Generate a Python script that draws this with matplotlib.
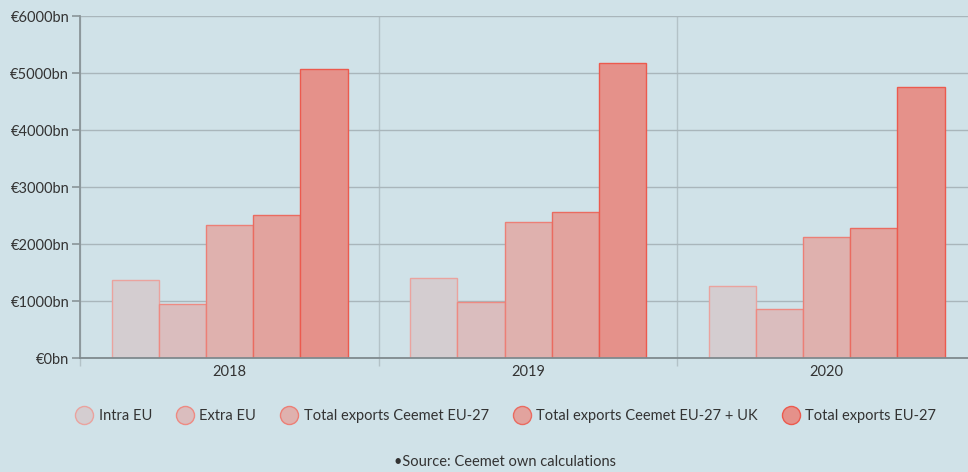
import matplotlib
matplotlib.use("Agg")
import matplotlib.pyplot as plt
from matplotlib.lines import Line2D
import numpy as np

plt.rcParams['font.family'] = ['Lato', 'DejaVu Sans']

years = ['2018', '2019', '2020']
series_names = ['Intra EU', 'Extra EU', 'Total exports Ceemet EU-27',
                'Total exports Ceemet EU-27 + UK', 'Total exports EU-27']
intra_eu = [1370, 1405, 1275]
extra_eu = [958, 980, 857]
ceemet_eu27 = [2345, 2395, 2126]
ceemet_eu27_uk = [2510, 2570, 2290]
total_eu27 = [5064, 5180, 4755]
y_ticks = [0, 1000, 2000, 3000, 4000, 5000, 6000]

fills = ['#d4cdd0', '#dabdbe', '#dfb1ae', '#e2a39e', '#e5918a']
edges = ['#eaa39e', '#ee8a82', '#ec7f76', '#ea6b60', '#ec5a4e']
bg = '#d0e2e8'
text_col = '#333333'

values = [intra_eu, extra_eu, ceemet_eu27, ceemet_eu27_uk, total_eu27]

fig = plt.figure(figsize=(9.68, 4.72), dpi=100)
fig.patch.set_facecolor(bg)
ax = fig.add_axes([0.083, 0.2409, 0.9252, 0.7252])
ax.set_facecolor(bg)

centers = np.arange(len(years)) + 0.5
bar_w = 0.158
for i, vals in enumerate(values):
    ax.bar(centers + (i - 2) * bar_w, vals, width=bar_w, color=fills[i],
           edgecolor=edges[i], linewidth=1.0, zorder=3)

ax.set_xlim(0, 3)
ax.set_ylim(0, 6000)
ax.set_yticks(y_ticks)
ax.set_yticklabels([f'€{v}bn' for v in y_ticks], fontsize=10.5, color=text_col)
ax.yaxis.grid(True, color='#a9b6bb', linewidth=1.0, zorder=0)

ax.set_xticks([0, 1, 2, 3])
ax.set_xticklabels([])
ax.set_xticks(centers, minor=True)
ax.set_xticklabels(years, minor=True, fontsize=10.5, color=text_col)
ax.tick_params(axis='x', which='minor', length=0, pad=5)
ax.tick_params(axis='x', which='major', length=6, color='#b3c2c7', width=1.0)
ax.xaxis.grid(True, which='major', color='#b3c2c7', linewidth=1.0, zorder=0)
ax.tick_params(axis='y', length=6, color='#8a9498', width=1.2, pad=2)

for s in ['top', 'right']:
    ax.spines[s].set_visible(False)
ax.spines['left'].set_color('#8a9498')
ax.spines['left'].set_linewidth(1.3)
ax.spines['bottom'].set_color('#7f8a8e')
ax.spines['bottom'].set_linewidth(1.3)
ax.spines['bottom'].set_zorder(4)

handles = [Line2D([0], [0], marker='o', linestyle='none', markersize=13,
                  markerfacecolor=fills[i], markeredgecolor=edges[i],
                  markeredgewidth=1.0) for i in range(len(series_names))]
leg = fig.legend(handles, series_names, loc='center', bbox_to_anchor=(0.522, 0.119),
                 ncol=5, frameon=False, fontsize=10.5, handletextpad=0.35,
                 columnspacing=1.6, handlelength=1.3)
for t in leg.get_texts():
    t.set_color(text_col)

fig.text(0.522, 0.021, '•Source: Ceemet own calculations', ha='center', va='center',
         fontsize=10.5, color=text_col)

fig.savefig('out.png', dpi=100, facecolor=bg)
